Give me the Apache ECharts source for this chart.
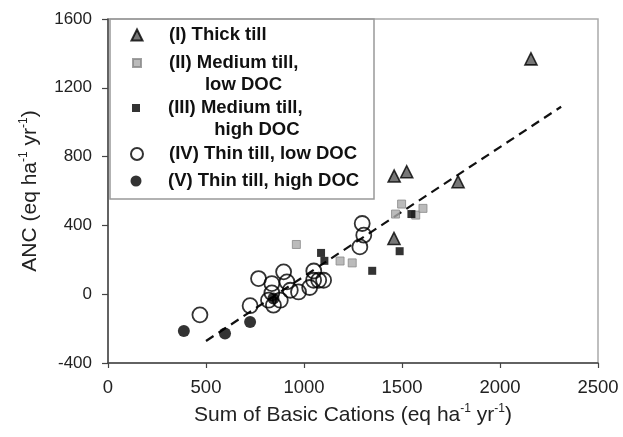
<!DOCTYPE html>
<html>
<head>
<meta charset="utf-8">
<script src="https://cdn.jsdelivr.net/npm/echarts@6/dist/echarts.min.js"></script>
<style>
  html, body { margin: 0; padding: 0; background: #fff; }
  #chart { width: 623px; height: 437px; }
</style>
</head>
<body>
<div id="chart"></div>
<script>
// [sum of basic cations, ANC] per group
var thickTill = [[1460, 687], [1524, 712], [1786, 654], [1459, 324], [2158, 1368]];
var mediumLowDoc = [[961, 289], [1184, 193], [1246, 182], [1498, 524], [1467, 466], [1570, 460], [1607, 499]];
var mediumHighDoc = [[1087, 240], [1104, 194], [1348, 136], [1548, 466], [1488, 250]];
var thinLowDoc = [[469, -120], [725, -67], [768, 91], [836, 62], [896, 130], [913, 72], [836, 8],
  [819, -35], [844, -64], [879, -35], [930, 23], [972, 13], [1029, 39], [1050, 135], [1049, 81],
  [1075, 81], [1100, 81], [1297, 411], [1305, 343], [1285, 275]];
var thinHighDoc = [[387, -214], [597, -229], [725, -161], [844, -25]];
var trendLine = [[500, -272], [2312, 1090]];

var names = ["(I) Thick till", "(II) Medium till, low DOC", "(III) Medium till, high DOC",
  "(IV) Thin till, low DOC", "(V) Thin till, high DOC"];
// leading blank line keeps the icon level with the first text line
var legendText = [
  "(I) Thick till",
  "\n(II) Medium till,\n       low DOC",
  "\n(III) Medium till,\n         high DOC",
  "(IV) Thin till, low DOC",
  "(V) Thin till, high DOC"
];
var xTicks = [0, 2500, 500];
var yTicks = [-400, 1600, 400];

var font = "Liberation Sans, Arial, sans-serif";
var chart = echarts.init(document.getElementById("chart"));

// one legend per row
var legendRows = [
  { c: 35, lines: 1, s: 11 },
  { c: 63, lines: 3, s: 8 },
  { c: 108, lines: 3, s: 8 },
  { c: 154, lines: 1, s: 12 },
  { c: 181, lines: 1, s: 11 }
];
var legends = legendRows.map(function (r, i) {
  var left = 136 - r.s / 2;
  return {
    data: [names[i]],
    orient: "vertical",
    left: left,
    top: r.c - r.lines * 11,
    padding: 0,
    itemWidth: r.s,
    itemHeight: r.s,
    selectedMode: false,
    formatter: function () { return legendText[i]; },
    textStyle: {
      fontFamily: font,
      fontWeight: "bold",
      fontSize: 18.5,
      lineHeight: 22,
      color: "#111",
      padding: [0, 0, 0, 168 - (left + r.s + 5)]
    }
  };
});

var sup = { fontSize: 12, verticalAlign: "top", fontFamily: font, color: "#222" };
var plain = function (v) { return String(v); };

var option = {
  animation: false,
  backgroundColor: "#fff",
  grid: {
    left: 108, right: 25, top: 19, bottom: 74,
    show: true, borderColor: "#aaa", borderWidth: 1.5
  },
  legend: legends,
  graphic: [{
    type: "rect",
    shape: { x: 110, y: 19, width: 264, height: 180 },
    style: { fill: null, stroke: "#999", lineWidth: 1.5 },
    z: 10
  }],
  xAxis: {
    type: "value",
    min: xTicks[0], max: xTicks[1], interval: xTicks[2],
    splitLine: { show: false },
    axisLine: { show: true, onZero: false, lineStyle: { color: "#444", width: 1.5 } },
    axisTick: { show: true, length: 5, lineStyle: { color: "#444", width: 1.2 } },
    axisLabel: { fontFamily: font, fontSize: 18.5, color: "#222", margin: 15, formatter: plain },
    name: "Sum of Basic Cations (eq ha{s|-1} yr{s|-1})",
    nameLocation: "middle",
    nameGap: 40,
    nameTextStyle: { fontFamily: font, fontSize: 21, color: "#222", lineHeight: 24, rich: { s: sup } }
  },
  yAxis: {
    type: "value",
    min: yTicks[0], max: yTicks[1], interval: yTicks[2],
    splitLine: { show: false },
    axisLine: { show: true, onZero: false, lineStyle: { color: "#444", width: 1.5 } },
    axisTick: { show: true, length: 6, lineStyle: { color: "#444", width: 1.2 } },
    axisLabel: { fontFamily: font, fontSize: 17, color: "#222", margin: 16, formatter: plain },
    name: "ANC (eq ha{s|-1} yr{s|-1})",
    nameLocation: "middle",
    nameRotate: 90,
    nameGap: 66,
    nameTextStyle: { fontFamily: font, fontSize: 21, color: "#222", lineHeight: 24, rich: { s: sup } }
  },
  series: [
    {
      name: "trend", type: "line", data: trendLine, symbol: "none", z: 1,
      lineStyle: { color: "#111", width: 2.2, type: [9, 6] }
    },
    {
      name: names[0], type: "scatter", data: thickTill, symbol: "triangle", symbolSize: 12,
      itemStyle: { color: "#555", borderColor: "#000", borderWidth: 1.6 }
    },
    {
      name: names[1], type: "scatter", data: mediumLowDoc, symbol: "rect", symbolSize: 8,
      itemStyle: { color: "#aaa", borderColor: "#888", borderWidth: 1 }
    },
    {
      name: names[2], type: "scatter", data: mediumHighDoc, symbol: "rect", symbolSize: 8,
      itemStyle: { color: "#000" }
    },
    {
      name: names[3], type: "scatter", data: thinLowDoc, symbol: "circle", symbolSize: 15,
      itemStyle: { color: "rgba(255,255,255,0)", borderColor: "#000", borderWidth: 1.8 }
    },
    {
      name: names[4], type: "scatter", data: thinHighDoc, symbol: "circle", symbolSize: 12,
      itemStyle: { color: "#000" }
    }
  ]
};
chart.setOption(option);
</script>
</body>
</html>
